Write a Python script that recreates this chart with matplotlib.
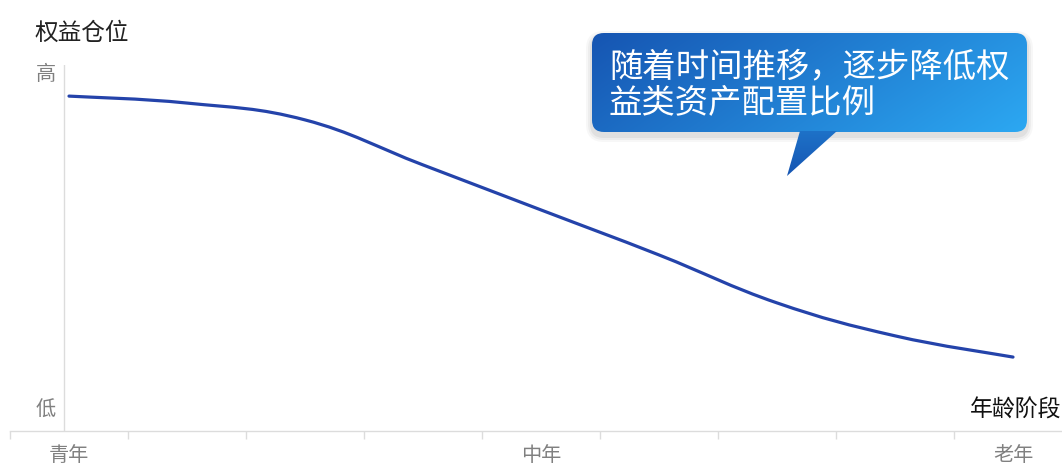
import numpy as np
import matplotlib
matplotlib.use("Agg")
import matplotlib.pyplot as plt
from matplotlib.path import Path
from matplotlib.patches import PathPatch, FancyBboxPatch, Polygon

plt.rcParams['font.family'] = ['Noto Sans CJK SC', 'DejaVu Sans']

# data
stages = ['青年', '', '', '', '中年', '', '', '', '老年']
equity = [91.5, 89.6, 85.0, 72.7, 60.4, 48.1, 35.0, 26.0, 20.2]
y_title = '权益仓位'
x_title = '年龄阶段'
y_high, y_low = '高', '低'
note_lines = ['随着时间推移，逐步降低权', '益类资产配置比例']

W, H = 1062, 467
fig = plt.figure(figsize=(W / 100, H / 100), dpi=100)
fig.patch.set_facecolor('white')

# main axes: 9 categories, each 118 px wide, starting at x=10
ax = fig.add_axes([10 / W, (H - 431) / H, 1062 / W, 366 / H])
n = len(stages)
ax.set_xlim(-0.5, n - 0.5)
ax.set_ylim(0, 100)
for s in ['top', 'right', 'left']:
    ax.spines[s].set_visible(False)
ax.spines['bottom'].set_color('#dcdcdc')
ax.spines['bottom'].set_linewidth(1)
ax.set_yticks([])
ax.set_xticks(np.arange(n + 1) - 0.5)
ax.set_xticklabels([])
ax.tick_params(axis='x', which='major', length=6, color='#dcdcdc', width=1)
ax.set_xticks(np.arange(n), minor=True)
ax.set_xticklabels(stages, minor=True, fontsize=14.5, color='#808080')
ax.tick_params(axis='x', which='minor', length=0, pad=10)

# y axis line
ax.axvline(-0.042, color='#dcdcdc', lw=1)
ax.text(-0.195, 97.3, y_high, ha='center', va='center', fontsize=14.5, color='#808080')
ax.text(-0.195, 5.7, y_low, ha='center', va='center', fontsize=14.5, color='#808080')

# smooth line through the points (cubic bezier segments)
xs = np.arange(n, dtype=float)
ys = np.array(equity, dtype=float)
pts = np.column_stack([xs, ys])
t = 0.2
verts = [pts[0]]
codes = [Path.MOVETO]
for i in range(n - 1):
    p0 = pts[max(i - 1, 0)]
    p1 = pts[i]
    p2 = pts[i + 1]
    p3 = pts[min(i + 2, n - 1)]
    c1 = p1 + (p2 - p0) * t
    c2 = p2 - (p3 - p1) * t
    verts += [c1, c2, p2]
    codes += [Path.CURVE4] * 3
ax.add_patch(PathPatch(Path(verts, codes), fill=False, edgecolor='#2443aa',
                       lw=2.3, capstyle='round', joinstyle='round'))

# overlay in pixel coords for titles and the callout
ov = fig.add_axes([0, 0, 1, 1])
ov.set_xlim(0, W)
ov.set_ylim(H, 0)
ov.axis('off')
ov.patch.set_alpha(0)

ov.text(35, 33, y_title, ha='left', va='center', fontsize=17, color='#222222')
ov.text(1061, 410, x_title, ha='right', va='center', fontsize=16.5, color='#111111')

# callout shadow
for k, a in [(6, 0.03), (4, 0.04), (2, 0.05)]:
    ov.add_patch(FancyBboxPatch((592 - k, 33 - k + 4), 435 + 2 * k, 99 + 2 * k,
                                boxstyle='round,pad=0,rounding_size=%d' % (12 + k),
                                fc='#000000', ec='none', alpha=a, zorder=1))

box = FancyBboxPatch((592, 33), 435, 99, boxstyle='round,pad=0,rounding_size=12',
                     fc='none', ec='none', zorder=2)
ov.add_patch(box)
tail = Polygon([[800, 131], [837, 131], [787, 176]], closed=True, fc='none', ec='none', zorder=2)
ov.add_patch(tail)

gx, gy = np.meshgrid(np.linspace(0, 1, 200), np.linspace(0, 1, 100))
g = (gx * 0.75 + gy * 0.25)
c0 = np.array([0x16, 0x55, 0xb2]) / 255
c1 = np.array([0x2c, 0xa8, 0xf2]) / 255
img = c0[None, None, :] * (1 - g[..., None]) + c1[None, None, :] * g[..., None]
im1 = ov.imshow(img, extent=[592, 1027, 132, 33], aspect='auto', zorder=3, interpolation='bilinear')
im1.set_clip_path(box)
gt = np.linspace(0, 1, 100)[:, None] * np.ones((1, 50))
img2 = c0[None, None, :] * (1 - gt[..., None] * 0.35) + c1[None, None, :] * (gt[..., None] * 0.35)
img2 = img2[::-1]
im2 = ov.imshow(img2, extent=[786, 838, 177, 130], aspect='auto', zorder=3, interpolation='bilinear')
im2.set_clip_path(tail)
ov.set_xlim(0, W)
ov.set_ylim(H, 0)

ov.text(609, 67, note_lines[0], ha='left', va='center', fontsize=24, color='white', zorder=5)
ov.text(609, 103, note_lines[1], ha='left', va='center', fontsize=24, color='white', zorder=5)

fig.savefig('out.png', dpi=100)
